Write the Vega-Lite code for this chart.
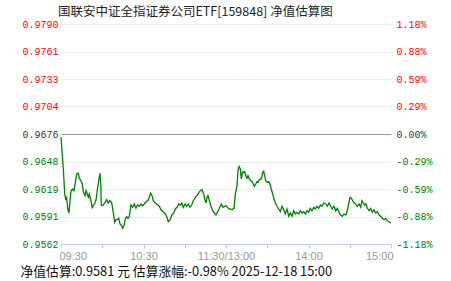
{
  "$schema": "https://vega.github.io/schema/vega-lite/v6.json",
  "width": 330,
  "height": 220,
  "autosize": {"type": "none"},
  "padding": {"left": 61, "top": 24, "right": 60, "bottom": 37},
  "background": "#ffffff",
  "title": {
    "text": "国联安中证全指证券公司ETF[159848] 净值估算图",
    "anchor": "start",
    "frame": "group",
    "dx": -3,
    "dy": 2,
    "offset": 3,
    "font": "Noto Sans CJK SC",
    "fontSize": 12.5,
    "fontWeight": "normal",
    "color": "#222222"
  },
  "data": {"values": [
    {"t":0,"v":0.96726},{"t":1.7,"v":0.96397},{"t":2.7,"v":0.96138},{"t":3.4,"v":0.96086},{"t":4.1,"v":0.96104},{"t":4.9,"v":0.95983},{"t":5.8,"v":0.95941},{"t":6.5,"v":0.96055},{"t":7.3,"v":0.96172},{"t":8.5,"v":0.9619},{"t":9.5,"v":0.96172},{"t":10.4,"v":0.96259},{"t":11.4,"v":0.96345},{"t":12.6,"v":0.96353},{"t":13.3,"v":0.96301},{"t":14.5,"v":0.96276},{"t":15.5,"v":0.96242},{"t":16.2,"v":0.96162},{"t":17.5,"v":0.96121},{"t":18.2,"v":0.96172},{"t":19.1,"v":0.96138},{"t":19.9,"v":0.96104},{"t":20.6,"v":0.96138},{"t":21.6,"v":0.96086},{"t":22.8,"v":0.9599},{"t":23.5,"v":0.96024},{"t":24.5,"v":0.96035},{"t":25.5,"v":0.96079},{"t":26.7,"v":0.96208},{"t":27.6,"v":0.96294},{"t":28.4,"v":0.96353},{"t":28.9,"v":0.96242},{"t":29.3,"v":0.96024},{"t":30.3,"v":0.96017},{"t":31.8,"v":0.96045},{"t":33.2,"v":0.96079},{"t":34.4,"v":0.96045},{"t":35.6,"v":0.96069},{"t":36.9,"v":0.96045},{"t":38,"v":0.95948},{"t":39.1,"v":0.95845},{"t":40,"v":0.95872},{"t":40.9,"v":0.95872},{"t":42,"v":0.95886},{"t":42.9,"v":0.95827},{"t":44.1,"v":0.9581},{"t":44.9,"v":0.95783},{"t":45.8,"v":0.9581},{"t":46.8,"v":0.95879},{"t":47.8,"v":0.95903},{"t":48.7,"v":0.95886},{"t":49.7,"v":0.95907},{"t":50.9,"v":0.96024},{"t":52.1,"v":0.96},{"t":53.3,"v":0.96035},{"t":54.5,"v":0.9599},{"t":55.8,"v":0.96024},{"t":56.9,"v":0.96011},{"t":58.2,"v":0.96035},{"t":59.4,"v":0.96017},{"t":60.6,"v":0.96035},{"t":61.8,"v":0.96058},{"t":63.1,"v":0.96069},{"t":64.2,"v":0.96104},{"t":65.2,"v":0.96145},{"t":66.2,"v":0.96121},{"t":67.1,"v":0.96069},{"t":68.6,"v":0.96045},{"t":70.3,"v":0.96024},{"t":71.5,"v":0.96011},{"t":72.7,"v":0.95975},{"t":74.4,"v":0.95955},{"t":75.9,"v":0.95931},{"t":77.1,"v":0.95897},{"t":78,"v":0.95851},{"t":79.3,"v":0.95872},{"t":80.7,"v":0.95921},{"t":82,"v":0.95941},{"t":83.1,"v":0.95983},{"t":84.4,"v":0.96},{"t":85.6,"v":0.96035},{"t":86.8,"v":0.96024},{"t":87.8,"v":0.96045},{"t":88.9,"v":0.96},{"t":90.2,"v":0.96035},{"t":91.4,"v":0.96011},{"t":92.6,"v":0.96035},{"t":93.8,"v":0.96},{"t":95,"v":0.96024},{"t":96.2,"v":0.96069},{"t":97.7,"v":0.96104},{"t":98.9,"v":0.96121},{"t":100.1,"v":0.96149},{"t":101.3,"v":0.96172},{"t":102.5,"v":0.96183},{"t":103.8,"v":0.96138},{"t":104.5,"v":0.96086},{"t":105.5,"v":0.96045},{"t":106.2,"v":0.96104},{"t":106.9,"v":0.96121},{"t":107.9,"v":0.96069},{"t":109.1,"v":0.96011},{"t":110.3,"v":0.95965},{"t":111.5,"v":0.95941},{"t":112.7,"v":0.95921},{"t":114,"v":0.95955},{"t":115.1,"v":0.9599},{"t":116.6,"v":0.96035},{"t":117.8,"v":0.96},{"t":119.1,"v":0.96011},{"t":120.2,"v":0.96017},{"t":122,"v":0.95983},{"t":123.1,"v":0.95983},{"t":124.4,"v":0.95975},{"t":125.8,"v":0.9599},{"t":126.8,"v":0.96138},{"t":128,"v":0.96224},{"t":128.7,"v":0.9638},{"t":129.5,"v":0.96425},{"t":130.4,"v":0.96397},{"t":131.1,"v":0.96294},{"t":132.1,"v":0.96369},{"t":132.9,"v":0.96363},{"t":133.6,"v":0.96369},{"t":134.5,"v":0.96322},{"t":135.3,"v":0.96301},{"t":136,"v":0.96328},{"t":136.9,"v":0.96294},{"t":138,"v":0.96276},{"t":138.9,"v":0.96266},{"t":139.9,"v":0.96242},{"t":140.6,"v":0.96218},{"t":141.6,"v":0.96242},{"t":142.5,"v":0.96266},{"t":143.3,"v":0.96259},{"t":144.2,"v":0.96286},{"t":145.7,"v":0.96294},{"t":146.7,"v":0.96363},{"t":147.4,"v":0.96373},{"t":148.1,"v":0.96328},{"t":148.9,"v":0.96276},{"t":150,"v":0.96259},{"t":151.1,"v":0.96266},{"t":152,"v":0.96242},{"t":152.9,"v":0.9619},{"t":154,"v":0.96138},{"t":154.9,"v":0.96086},{"t":155.9,"v":0.96045},{"t":157.1,"v":0.96011},{"t":158.3,"v":0.95983},{"t":159.5,"v":0.95955},{"t":160.7,"v":0.96011},{"t":162,"v":0.95975},{"t":163.1,"v":0.95931},{"t":164.4,"v":0.95983},{"t":165.6,"v":0.95907},{"t":166.8,"v":0.95941},{"t":168,"v":0.95907},{"t":169.2,"v":0.95965},{"t":170.4,"v":0.95931},{"t":171.6,"v":0.95948},{"t":172.9,"v":0.95931},{"t":174,"v":0.95965},{"t":175.3,"v":0.95941},{"t":176.5,"v":0.95955},{"t":177.7,"v":0.95931},{"t":178.9,"v":0.95965},{"t":180.1,"v":0.95948},{"t":181.3,"v":0.9599},{"t":182.5,"v":0.95965},{"t":183.8,"v":0.96},{"t":184.9,"v":0.95983},{"t":186.2,"v":0.96011},{"t":187.4,"v":0.9599},{"t":188.6,"v":0.96024},{"t":189.8,"v":0.96011},{"t":191.1,"v":0.96045},{"t":192.5,"v":0.96035},{"t":193.7,"v":0.96011},{"t":194.9,"v":0.96045},{"t":196.1,"v":0.96011},{"t":197.3,"v":0.95983},{"t":198.5,"v":0.96011},{"t":199.8,"v":0.95965},{"t":200.9,"v":0.9599},{"t":202.2,"v":0.95948},{"t":203.4,"v":0.95921},{"t":204.6,"v":0.95907},{"t":205.8,"v":0.95931},{"t":207.1,"v":0.95921},{"t":208.2,"v":0.95965},{"t":209.2,"v":0.96035},{"t":210.2,"v":0.96104},{"t":211.1,"v":0.96094},{"t":212.1,"v":0.96069},{"t":213.1,"v":0.96045},{"t":214.3,"v":0.96035},{"t":215.5,"v":0.96011},{"t":216.7,"v":0.96035},{"t":218,"v":0.96},{"t":218.9,"v":0.96069},{"t":219.9,"v":0.96045},{"t":220.9,"v":0.96024},{"t":221.8,"v":0.96035},{"t":222.8,"v":0.9599},{"t":224,"v":0.95965},{"t":225.2,"v":0.9599},{"t":226.4,"v":0.95948},{"t":227.6,"v":0.95975},{"t":228.9,"v":0.95941},{"t":230,"v":0.95955},{"t":231.3,"v":0.95921},{"t":232.5,"v":0.95907},{"t":233.7,"v":0.95886},{"t":234.9,"v":0.95872},{"t":236.2,"v":0.95886},{"t":237.3,"v":0.9586},{"t":238.5,"v":0.95851},{"t":240,"v":0.95838}
  ]},
  "encoding": {
    "x": {
      "field": "t",
      "type": "quantitative",
      "scale": {"domain": [0, 240], "nice": false, "zero": false},
      "axis": {
        "values": [0, 30, 60, 90, 120, 150, 180, 210, 240],
        "labelExpr": "datum.value == 0 ? '09:30' : datum.value == 60 ? '10:30' : datum.value == 120 ? '11:30/13:00' : datum.value == 180 ? '14:00' : datum.value == 240 ? '15:00' : ''",
        "grid": false,
        "domainColor": "#b9cde2",
        "tickColor": "#b9cde2",
        "tickSize": 4,
        "labelFlush": true,
        "labelFlushOffset": 2,
        "labelFont": "Liberation Sans",
        "labelFontSize": 11,
        "labelColor": "#999999",
        "labelPadding": 2,
        "title": "净值估算:0.9581 元 估算涨幅:-0.98% 2025-12-18 15:00",
        "titleX": -41,
        "titleY": 31,
        "titleAlign": "left",
        "titleAnchor": "start",
        "titleBaseline": "alphabetic",
        "titleFont": "Noto Sans CJK SC",
        "titleFontSize": 12.8,
        "titleFontWeight": "normal",
        "titleColor": "#111111"
      }
    }
  },
  "layer": [
    {
      "mark": {"type": "line", "color": "#008000", "strokeWidth": 1.3, "interpolate": "linear"},
      "encoding": {
        "y": {
          "field": "v",
          "type": "quantitative",
          "scale": {"domain": [0.9562, 0.979], "nice": false, "zero": false},
          "axis": {
            "orient": "left",
            "values": [0.9562, 0.95905, 0.9619, 0.96475, 0.9676, 0.97045, 0.9733, 0.97615, 0.979],
            "labelExpr": "datum.value > 0.978 ? '0.9790' : datum.value > 0.975 ? '0.9761' : datum.value > 0.972 ? '0.9733' : datum.value > 0.969 ? '0.9704' : datum.value > 0.966 ? '0.9676' : datum.value > 0.963 ? '0.9648' : datum.value > 0.960 ? '0.9619' : datum.value > 0.9575 ? '0.9591' : '0.9562'",
            "labelColor": {"condition": [{"test": "datum.value > 0.968", "value": "#ff0000"}, {"test": "datum.value < 0.967", "value": "#008000"}], "value": "#333333"},
            "labelFont": "Liberation Mono",
            "labelFontSize": 10,
            "labelPadding": 3,
            "domain": false,
            "ticks": false,
            "grid": true,
            "gridColor": {"condition": {"test": "datum.value > 0.967 && datum.value < 0.968", "value": "#999999"}, "value": "#d8d8d8"},
            "gridDash": {"condition": {"test": "datum.value > 0.967 && datum.value < 0.968", "value": []}, "value": [1, 1]},
            "title": null
          }
        }
      }
    },
    {
      "mark": {"type": "line", "opacity": 0},
      "encoding": {
        "y": {
          "field": "v",
          "type": "quantitative",
          "axis": {
            "orient": "right",
            "values": [0.9562, 0.95905, 0.9619, 0.96475, 0.9676, 0.97045, 0.9733, 0.97615, 0.979],
            "labelExpr": "datum.value > 0.978 ? '1.18%' : datum.value > 0.975 ? '0.88%' : datum.value > 0.972 ? '0.59%' : datum.value > 0.969 ? '0.29%' : datum.value > 0.966 ? '0.00%' : datum.value > 0.963 ? '-0.29%' : datum.value > 0.960 ? '-0.59%' : datum.value > 0.9575 ? '-0.88%' : '-1.18%'",
            "labelColor": {"condition": [{"test": "datum.value > 0.968", "value": "#ff0000"}, {"test": "datum.value < 0.967", "value": "#008000"}], "value": "#333333"},
            "labelFont": "Liberation Mono",
            "labelFontSize": 10,
            "labelPadding": 5,
            "domain": false,
            "ticks": false,
            "grid": false,
            "title": null
          }
        }
      }
    }
  ],
  "resolve": {"axis": {"y": "independent"}},
  "config": {"view": {"stroke": null}}
}
